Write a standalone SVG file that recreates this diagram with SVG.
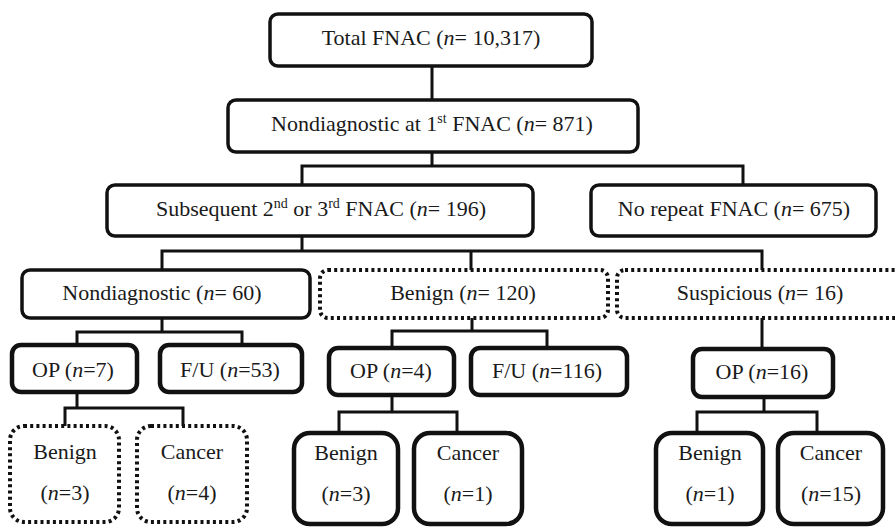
<svg xmlns="http://www.w3.org/2000/svg" width="895" height="528" viewBox="0 0 895 528">
<style>
text{font-family:'Liberation Serif','DejaVu Serif','Noto Serif',serif;font-size:22px;fill:#1a1a1a;text-anchor:middle}
.i{font-style:italic}
.b{fill:#fff;stroke:#111;stroke-width:3.5}
.t{fill:#fff;stroke:#111;stroke-width:4.5}
.d{fill:#fff;stroke:#111;stroke-width:4;stroke-dasharray:3 3.2}
.c{fill:none;stroke:#111;stroke-width:3}
</style>
<rect width="895" height="528" fill="#fff"/>
<g id="connectors">
<path class="c" d="M432 66V100"/>
<path class="c" d="M432 152V166M302 184V166H743V185"/>
<path class="c" d="M302 236V251M162 270V251H762V270M471 251V270"/>
<path class="c" d="M162 318V332M77 345V332H242V345"/>
<path class="c" d="M472 318V331M392 348V331H547V348"/>
<path class="c" d="M762 318V348"/>
<path class="c" d="M77 392V408M65 426V408H183V426"/>
<path class="c" d="M392 395V412M339 433V412H457V433"/>
<path class="c" d="M764 397V412M697 433V412H817V433"/>
</g>
<g id="total"><rect class="b" x="270" y="14" width="322" height="52" rx="8"/><text x="431" y="45">Total FNAC (<tspan class="i">n</tspan>= 10,317)</text></g>
<g id="nondiag1"><rect class="b" x="228" y="100" width="410" height="52" rx="8"/><text x="432" y="131">Nondiagnostic at 1<tspan font-size="14" dy="-8">st</tspan><tspan dy="8"> FNAC (</tspan><tspan class="i">n</tspan>= 871)</text></g>
<g id="subsequent"><rect class="b" x="107" y="185" width="426" height="51" rx="8"/><text x="321" y="216">Subsequent 2<tspan font-size="14" dy="-8">nd</tspan><tspan dy="8"> or 3</tspan><tspan font-size="14" dy="-8">rd</tspan><tspan dy="8"> FNAC (</tspan><tspan class="i">n</tspan>= 196)</text></g>
<g id="norepeat"><rect class="b" x="591" y="185" width="285" height="51" rx="8"/><text x="734" y="216">No repeat FNAC (<tspan class="i">n</tspan>= 675)</text></g>
<g id="nondiag60"><rect class="b" x="22" y="270" width="288" height="48" rx="8"/><text x="162" y="300">Nondiagnostic (<tspan class="i">n</tspan>= 60)</text></g>
<g id="benign120"><rect class="d" x="320" y="270" width="288" height="48" rx="8"/><text x="463" y="300">Benign (<tspan class="i">n</tspan>= 120)</text></g>
<g id="suspicious16"><rect class="d" x="617" y="270" width="290" height="48" rx="8"/><text x="760" y="300">Suspicious (<tspan class="i">n</tspan>= 16)</text></g>
<g id="op7"><rect class="t" x="12" y="345" width="125" height="47" rx="9"/><text x="73" y="377">OP (<tspan class="i">n</tspan>=7)</text></g>
<g id="fu53"><rect class="t" x="160" y="345" width="142" height="47" rx="9"/><text x="230" y="377">F/U (<tspan class="i">n</tspan>=53)</text></g>
<g id="op4"><rect class="t" x="329" y="348" width="125" height="47" rx="9"/><text x="391" y="378">OP (<tspan class="i">n</tspan>=4)</text></g>
<g id="fu116"><rect class="t" x="471" y="348" width="156" height="47" rx="9"/><text x="547" y="378">F/U (<tspan class="i">n</tspan>=116)</text></g>
<g id="op16"><rect class="t" x="693" y="349" width="140" height="48" rx="9"/><text x="762" y="379">OP (<tspan class="i">n</tspan>=16)</text></g>
<g id="benign3a"><rect class="d" x="10" y="426" width="109" height="96" rx="14"/><text x="65" y="459">Benign</text><text x="65" y="500">(<tspan class="i">n</tspan>=3)</text></g>
<g id="cancer4"><rect class="d" x="137" y="426" width="110" height="96" rx="14"/><text x="192" y="459">Cancer</text><text x="192" y="500">(<tspan class="i">n</tspan>=4)</text></g>
<g id="benign3b"><rect class="t" x="294" y="433" width="104" height="91" rx="16"/><text x="346" y="460">Benign</text><text x="346" y="501">(<tspan class="i">n</tspan>=3)</text></g>
<g id="cancer1"><rect class="t" x="414" y="433" width="108" height="91" rx="16"/><text x="468" y="460">Cancer</text><text x="468" y="501">(<tspan class="i">n</tspan>=1)</text></g>
<g id="benign1"><rect class="t" x="656" y="433" width="107" height="91" rx="16"/><text x="710" y="460">Benign</text><text x="710" y="501">(<tspan class="i">n</tspan>=1)</text></g>
<g id="cancer15"><rect class="t" x="778" y="433" width="105" height="91" rx="16"/><text x="831" y="460">Cancer</text><text x="831" y="501">(<tspan class="i">n</tspan>=15)</text></g>
</svg>
